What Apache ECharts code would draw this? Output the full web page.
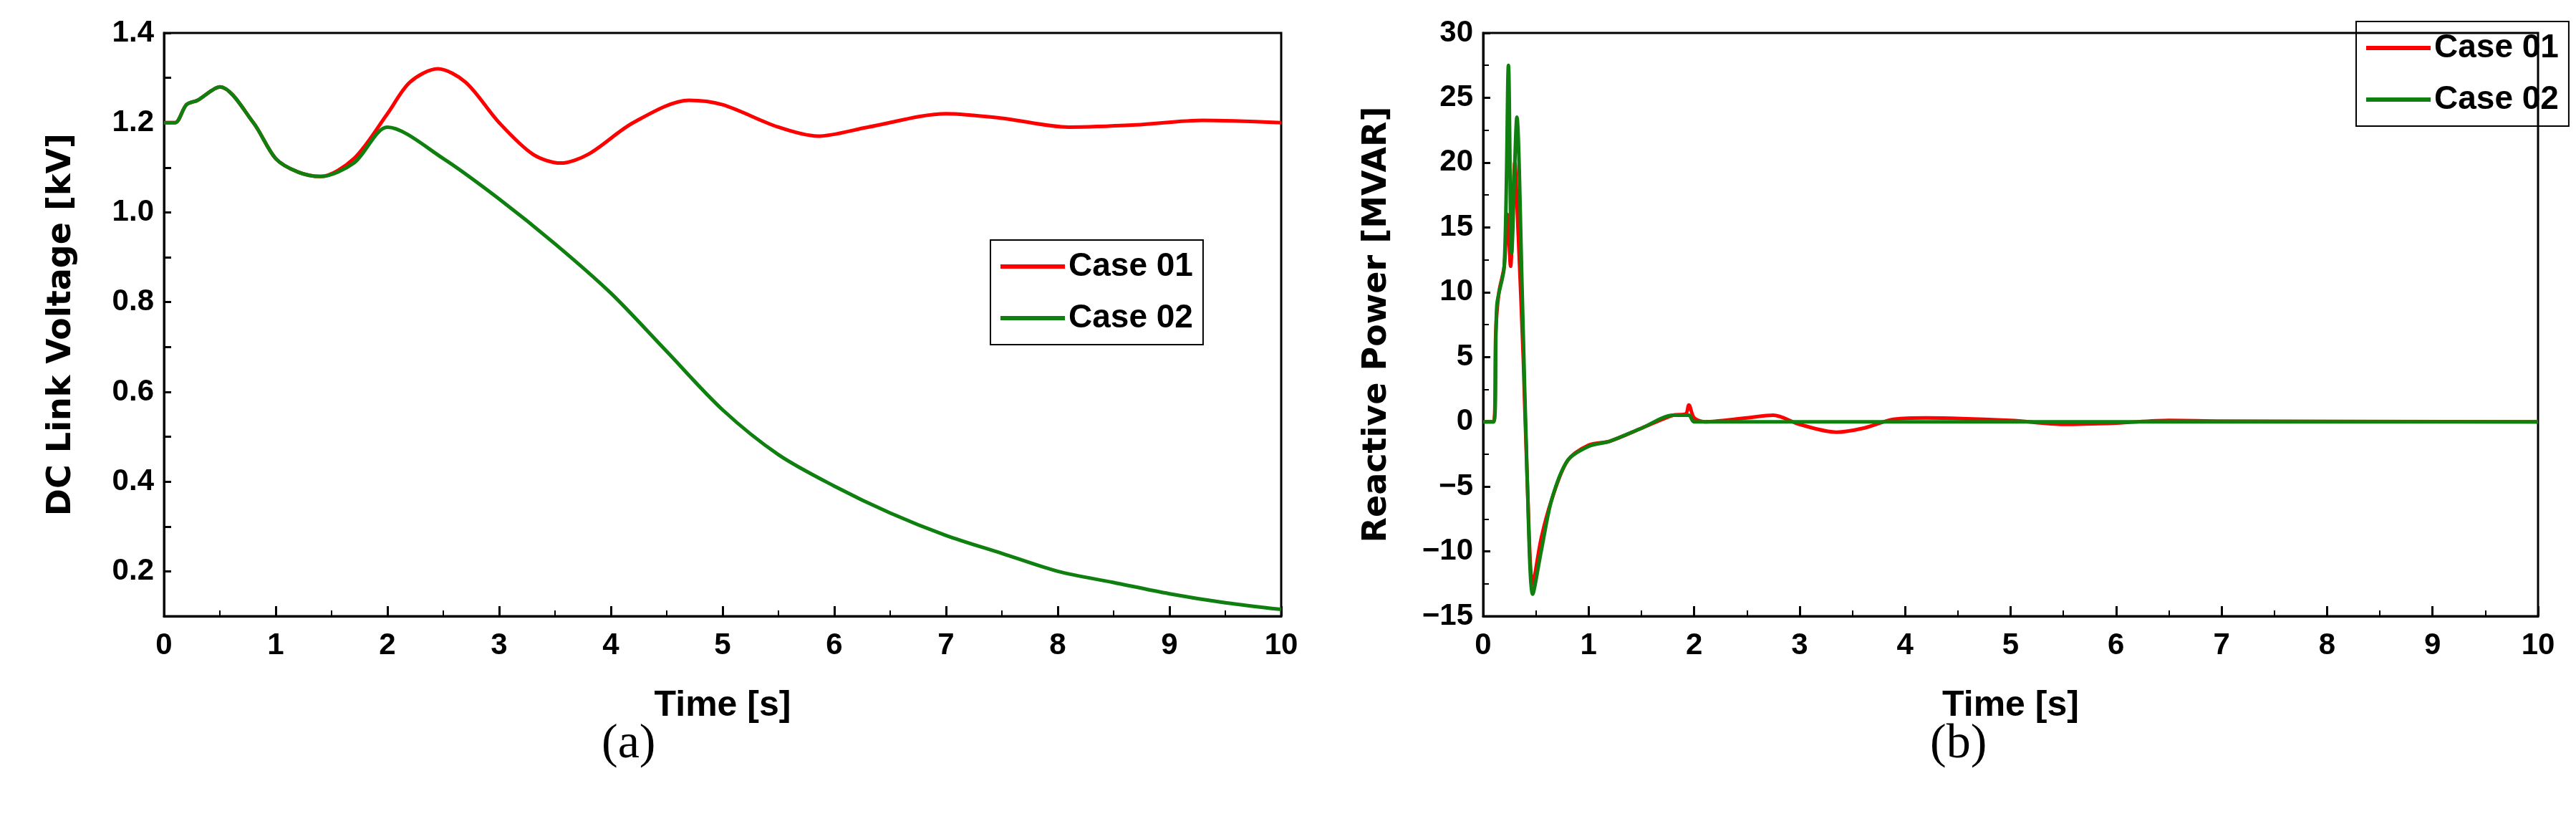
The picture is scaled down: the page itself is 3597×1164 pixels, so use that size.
<!DOCTYPE html>
<html>
<head>
<meta charset="utf-8">
<script src="https://cdn.jsdelivr.net/npm/echarts@6/dist/echarts.min.js"></script>
<style>html,body{margin:0;background:#fff}#c{width:3597px;height:1164px}</style>
</head>
<body>
<div id="c"></div>
<script>
// DC link voltage [kV]
var vCase01 = [[0,1.2],[0.1,1.2],[0.2,1.24],[0.3,1.25],[0.5,1.28],[0.8,1.2],[1.0,1.12],[1.2,1.09],[1.4,1.08],[1.7,1.12],[2.0,1.22],[2.2,1.29],[2.45,1.32],[2.7,1.29],[3.0,1.2],[3.3,1.13],[3.55,1.11],[3.8,1.13],[4.2,1.2],[4.7,1.25],[5.0,1.24],[5.5,1.19],[5.85,1.17],[6.3,1.19],[7.0,1.22],[7.5,1.21],[8.1,1.19],[8.7,1.195],[9.3,1.205],[10,1.2]];
var vCase02 = [[0,1.2],[0.1,1.2],[0.2,1.24],[0.3,1.25],[0.5,1.28],[0.8,1.2],[1.0,1.12],[1.2,1.09],[1.4,1.08],[1.7,1.11],[2.0,1.19],[2.5,1.12],[3.0,1.03],[3.5,0.93],[4.0,0.82],[4.5,0.69],[5.0,0.56],[5.5,0.46],[6.0,0.39],[6.5,0.33],[7.0,0.28],[7.5,0.24],[8.0,0.2],[8.5,0.175],[9.0,0.15],[9.5,0.13],[10,0.115]];
// reactive power [MVAR]
var qCase01 = [[0,0],[0.1,0],[0.12,7],[0.15,10],[0.2,12],[0.23,16],[0.26,12],[0.3,20],[0.33,15],[0.38,5],[0.42,-5],[0.47,-12.5],[0.55,-9],[0.65,-6],[0.8,-3],[1.0,-1.8],[1.2,-1.5],[1.5,-0.5],[1.8,0.5],[1.92,0.6],[1.95,1.3],[2.0,0.3],[2.1,0],[2.5,0.3],[2.75,0.5],[3.0,-0.2],[3.35,-0.8],[3.6,-0.5],[3.9,0.2],[4.2,0.3],[5.0,0.1],[5.5,-0.2],[6.0,-0.1],[6.5,0.1],[7.0,0.05],[10,0]];
var qCase02 = [[0,0],[0.1,0],[0.13,9],[0.2,12],[0.24,27.5],[0.27,13],[0.32,23.5],[0.37,10],[0.42,-5],[0.47,-13.3],[0.55,-10],[0.65,-6],[0.8,-3],[1.0,-1.9],[1.2,-1.5],[1.5,-0.5],[1.8,0.5],[1.95,0.5],[2.0,0],[10,0]];
var names = ['Case 01', 'Case 02'];
var colors = ['#ff0000', '#0f800f'];

var font = 'Liberation Sans Narrow, Liberation Sans, Arial';
var axLine = {show: true, onZero: false, lineStyle: {color: '#000', width: 3}};
function xAx(i) {
	return {gridIndex: i, type: 'value', min: 0, max: 10, interval: 1,
		name: 'Time [s]', nameLocation: 'middle', nameGap: 100,
		nameTextStyle: {fontFamily: font, fontWeight: 'bold', fontSize: 50, color: '#000'},
		axisLine: axLine, axisTick: {inside: true, length: 14, lineStyle: {width: 3, color: '#000'}},
		minorTick: {show: true, splitNumber: 2, length: 8, lineStyle: {width: 2, color: '#000'}},
		splitLine: {show: false},
		axisLabel: {fontFamily: font, fontWeight: 'bold', fontSize: 42, color: '#000', margin: 20}};
}
function yAx(i, o) {
	var a = {gridIndex: i, type: 'value', nameLocation: 'middle',
		nameTextStyle: {fontFamily: 'DejaVu Sans', fontWeight: 'bold', fontSize: 46, color: '#000'},
		axisLine: axLine, axisTick: {inside: true, length: 10, lineStyle: {width: 3, color: '#000'}},
		splitLine: {show: false}};
	for (var k in o) a[k] = o[k];
	return a;
}
function ser(i, n, d) {
	return {name: names[n], type: 'line', xAxisIndex: i, yAxisIndex: i, data: d, showSymbol: false,
		smooth: 0.3, lineStyle: {width: 5, color: colors[n]}, itemStyle: {color: colors[n]}};
}
function leg(i, pos) {
	var l = {data: names, orient: 'vertical', borderColor: '#000', borderWidth: 2, padding: [14, 14, 14, 14],
		itemWidth: 90, itemHeight: 6, itemGap: 26, icon: 'rect',
		textStyle: {fontFamily: font, fontWeight: 'bold', fontSize: 46, color: '#000'}};
	for (var k in pos) l[k] = pos[k];
	return l;
}
var chart = echarts.init(document.getElementById('c'));
chart.setOption({
	animation: false,
	grid: [{left: 229, top: 46, width: 1560, height: 814, show: true, borderColor: '#000', borderWidth: 3},
		{left: 2071, top: 46, width: 1473, height: 814, show: true, borderColor: '#000', borderWidth: 3}],
	xAxis: [xAx(0), xAx(1)],
	yAxis: [
		yAx(0, {min: 0.1, max: 1.4, interval: 0.1, name: 'DC Link Voltage [kV]', nameGap: 120,
			axisLabel: {fontFamily: font, fontWeight: 'bold', fontSize: 42, color: '#000', margin: 14,
				formatter: function(v) { var r = Math.round(v * 10); return r % 2 == 0 ? (r / 10).toFixed(1) : ''; }}}),
		yAx(1, {min: -15, max: 30, interval: 5, name: 'Reactive Power [MVAR]', nameGap: 125,
			minorTick: {show: true, splitNumber: 2, length: 8, lineStyle: {width: 2, color: '#000'}},
			axisLabel: {fontFamily: font, fontWeight: 'bold', fontSize: 42, color: '#000', margin: 14,
				formatter: function(v) { return v < 0 ? '\u2212' + (-v) : v; }}})
	],
	legend: [leg(0, {left: 1383, top: 335}), leg(1, {left: 3290, top: 30})],
	series: [ser(0, 0, vCase01), ser(0, 1, vCase02), ser(1, 0, qCase01), ser(1, 1, qCase02)],
	graphic: [
		{type: 'text', left: 840, top: 1005, style: {text: '(a)', font: '68px Liberation Serif', fill: '#000'}},
		{type: 'text', left: 2695, top: 1005, style: {text: '(b)', font: '68px Liberation Serif', fill: '#000'}}
	]
});
</script>
</body>
</html>
